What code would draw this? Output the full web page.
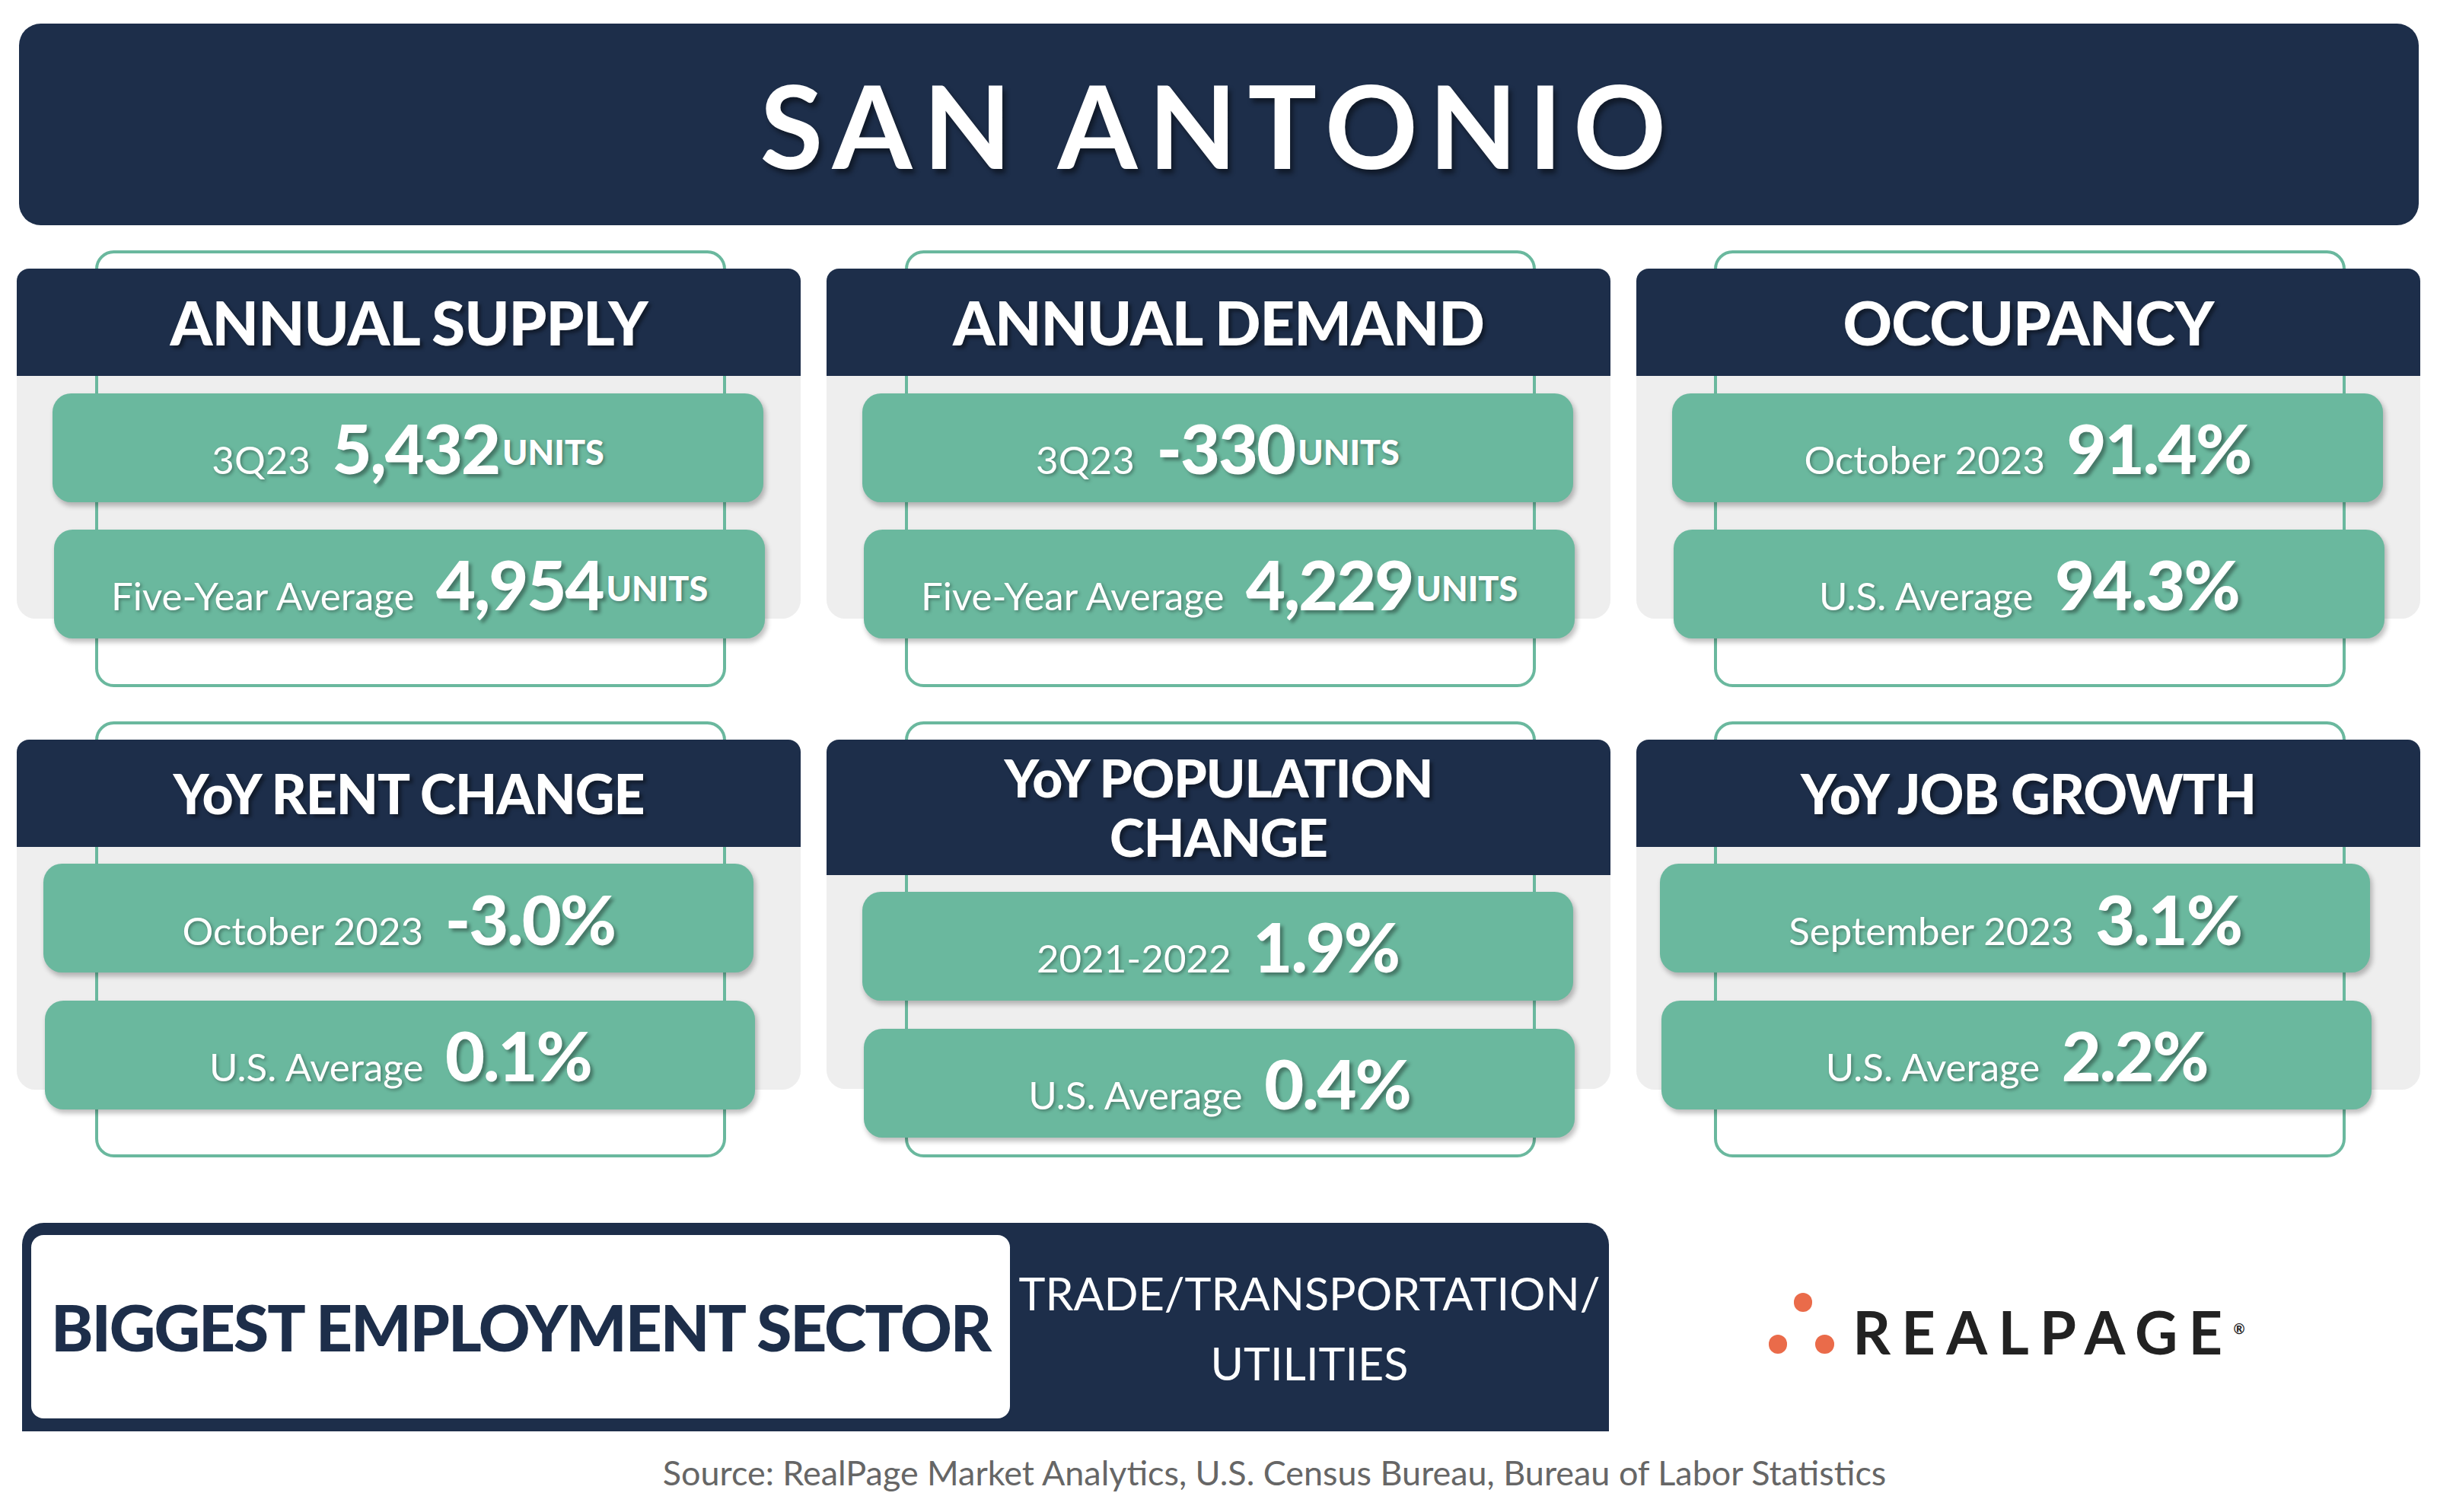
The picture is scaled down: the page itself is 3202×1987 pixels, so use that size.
<!DOCTYPE html>
<html>
<head>
<meta charset="utf-8">
<script src="https://cdn.jsdelivr.net/npm/chart.js@4.4.0/dist/chart.umd.min.js"></script>
<style>
  html, body { margin: 0; padding: 0; background: #fff; overflow: hidden; }
  #page { position: relative; width: 1568px; height: 973px; zoom: 2.0421; font-family: Lato, "Open Sans", sans-serif; }
  .abs { position: absolute; box-sizing: border-box; }
  .navy { background: #1d2e4a; }
  .title { color: #fff; font-weight: 700; font-size: 74px; letter-spacing: 7px; text-align: center; line-height: 130px; text-shadow: 2px 3px 3px rgba(0,0,0,0.45); }
  .head { color: #fff; font-weight: 900; font-size: 39px; text-align: center; display: flex; align-items: center; justify-content: center; line-height: 34px; text-shadow: 2px 2px 2px rgba(0,0,0,0.4); letter-spacing: -0.5px; }
  .head.small { font-size: 35px; }
  .body { background: #eeeeee; border-radius: 0 0 12px 12px; }
  .outline { border: 2px solid #6ab89e; border-radius: 12px; }
  .pill { background: #6ab89e; border-radius: 12px; box-shadow: 1px 2px 3px rgba(0,0,0,0.25); color: #fff; display: flex; align-items: baseline; justify-content: center; white-space: nowrap; padding-top: 3px; line-height: 64px; }
  .lbl { font-size: 25px; margin-right: 14px; text-shadow: 1px 1px 2px rgba(0,0,0,0.35); }
  .val { font-size: 44px; font-weight: 900; text-shadow: 2px 2px 2px rgba(0,0,0,0.35); letter-spacing: -1px; }
  .unit { font-size: 22px; font-weight: 900; margin-left: 2px; text-shadow: 1px 1px 2px rgba(0,0,0,0.35); position: relative; top: -6px; }
</style>
</head>
<body>
<div id="page"></div>
<script>
// Market title and panels
const cityName = 'SAN ANTONIO';
const panelTitles = ['ANNUAL SUPPLY', 'ANNUAL DEMAND', 'OCCUPANCY', 'YoY RENT CHANGE', 'YoY POPULATION<br>CHANGE', 'YoY JOB GROWTH'];
const topLabels = ['3Q23', '3Q23', 'October 2023', 'October 2023', '2021-2022', 'September 2023'];
const topValues = ['5,432', '-330', '91.4%', '-3.0%', '1.9%', '3.1%'];
const topUnits = ['UNITS', 'UNITS', '', '', '', ''];
const bottomLabels = ['Five-Year Average', 'Five-Year Average', 'U.S. Average', 'U.S. Average', 'U.S. Average', 'U.S. Average'];
const bottomValues = ['4,954', '4,229', '94.3%', '0.1%', '0.4%', '2.2%'];
const bottomUnits = ['UNITS', 'UNITS', '', '', '', ''];
const sectorLabel = 'BIGGEST EMPLOYMENT SECTOR';
const sectorValue = 'TRADE/TRANSPORTATION/<br>UTILITIES';
const sourceText = 'Source: RealPage Market Analytics, U.S. Census Bureau, Bureau of Labor Statistics';

const page = document.getElementById('page');
function box(x, y, w, h, cls, html, extra) {
  const d = document.createElement('div');
  d.className = 'abs ' + cls;
  Object.assign(d.style, { left: x + 'px', top: y + 'px', width: w + 'px', height: h + 'px' }, extra || {});
  if (html) d.innerHTML = html;
  page.appendChild(d);
  return d;
}
function pillHtml(l, v, u) {
  return '<span class="lbl">' + l + '</span><span class="val">' + v + '</span>' + (u ? '<span class="unit">' + u + '</span>' : '');
}

box(12, 15, 1544, 130, 'navy title', cityName, { borderRadius: '14px' });

const colX = [11, 532, 1053];
const pillShift = [0, 0, 0, -6, 0, -8];
for (let i = 0; i < 6; i++) {
  const x = colX[i % 3];
  const row = Math.floor(i / 3);
  const tall = i === 4;
  const hy = row === 0 ? 173 : 476;
  const hh = tall ? 87 : 69;
  const by = hy + hh;
  const outY = row === 0 ? 161 : 464;
  box(x, by, 504, 156 - (tall ? 18 : 0), 'body');
  box(x + 50, outY, 406, 281, 'outline');
  box(x, hy, 504, hh, 'navy head' + (row === 1 ? ' small' : ''), panelTitles[i], { borderRadius: '8px 8px 0 0', lineHeight: tall ? '38px' : '34px', fontSize: tall ? '34px' : '' });
  const p1 = by + 11, p2 = p1 + 88;
  box(x + 23 + pillShift[i], p1, 457, 70, 'pill', pillHtml(topLabels[i], topValues[i], topUnits[i]));
  box(x + 24 + pillShift[i], p2, 457, 70, 'pill', pillHtml(bottomLabels[i], bottomValues[i], bottomUnits[i]));
}

box(14, 787, 1021, 134, 'navy', '', { borderRadius: '14px 14px 0 0' });
box(20, 795, 630, 118, '', sectorLabel, { background: '#fff', borderRadius: '8px', color: '#1d2e4a', fontWeight: 900, fontSize: '41px', display: 'flex', alignItems: 'center', justifyContent: 'center', letterSpacing: '-1px', whiteSpace: 'nowrap' });
box(650, 800, 385, 110, '', sectorValue, { color: '#fff', fontSize: '29px', textAlign: 'center', lineHeight: '45px', display: 'flex', alignItems: 'center', justifyContent: 'center' });

// RealPage logo
const dotC = '#ea6b4a';
box(1154, 832, 12, 12, '', '', { background: dotC, borderRadius: '50%' });
box(1138, 859, 12, 12, '', '', { background: dotC, borderRadius: '50%' });
box(1168, 859, 12, 12, '', '', { background: dotC, borderRadius: '50%' });
box(1192, 830, 270, 50, '', 'REALPAGE<sup style="font-size:9px">®</sup>', { color: '#222', fontSize: '38px', fontWeight: 700, letterSpacing: '7px', lineHeight: '50px' });

box(0, 930, 1640, 36, '', sourceText, { color: '#666', fontSize: '22px', textAlign: 'center', lineHeight: '36px' });
</script>
</body>
</html>
